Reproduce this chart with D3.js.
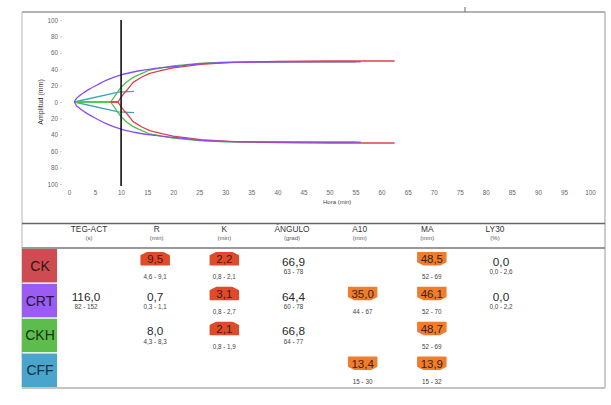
<!DOCTYPE html>
<html>
<head>
<meta charset="utf-8">
<script src="https://cdn.jsdelivr.net/npm/d3@7"></script>
<style>
    body { margin: 0; background: #fff; }
    svg { font-family: "Liberation Sans", Arial, sans-serif; }
</style>
</head>
<body>
<svg width="611" height="405"></svg>
<script>
// axis tick labels
var timeTicks = [0, 5, 10, 15, 20, 25, 30, 35, 40, 45, 50, 55, 60, 65, 70, 75, 80, 85, 90, 95, 100];
var ampTicks = [-100, -80, -60, -40, -20, 0, 20, 40, 60, 80, 100];

// upper half of each trace [min, mm]; the lower half is its mirror
var ckTrace = [[8, 0], [9.4, 0], [10, 6], [10.5, 10], [11.2, 15], [12.3, 24], [14, 30.5], [15.5, 35], [18, 39], [20, 41.5], [25.3, 46], [31.4, 48.4], [40, 49.5], [50, 50], [62.5, 50]];
var crtTrace = [[1, 0], [1.4, 4], [2, 7.5], [3, 12], [4, 16], [5, 19.5], [7, 26], [10, 33], [13, 37.5], [16, 40.5], [20, 43], [25, 46.5], [30, 48], [40, 48.8], [56, 49]];
var ckhTrace = [[1, 0], [8, 0], [9, 9], [10, 18], [11, 24], [12.3, 30], [14, 35], [15.5, 39], [18, 42], [20, 44], [25, 47], [30, 48.5], [40, 49], [55, 49]];
var cffTrace = [[1, 0], [9.5, 12], [12.5, 13]];
var referenceTime = 10;

// table
var groups = ["CK", "CRT", "CKH", "CFF"];
var params = ["TEG-ACT", "R", "K", "ÁNGULO", "A10", "MA", "LY30"];
var paramUnits = ["(s)", "(min)", "(min)", "(grad)", "(mm)", "(mm)", "(%)"];
// group, parameter, value, reference range, flag
var cells = [
    ["CK", "R", "9,5", "4,6 - 9,1", "high"],
    ["CK", "K", "2,2", "0,8 - 2,1", "high"],
    ["CK", "ÁNGULO", "66,9", "63 - 78", ""],
    ["CK", "MA", "48,5", "52 - 69", "low"],
    ["CK", "LY30", "0,0", "0,0 - 2,6", ""],
    ["CRT", "TEG-ACT", "116,0", "82 - 152", ""],
    ["CRT", "R", "0,7", "0,3 - 1,1", ""],
    ["CRT", "K", "3,1", "0,8 - 2,7", "high"],
    ["CRT", "ÁNGULO", "64,4", "60 - 78", ""],
    ["CRT", "A10", "35,0", "44 - 67", "low"],
    ["CRT", "MA", "46,1", "52 - 70", "low"],
    ["CRT", "LY30", "0,0", "0,0 - 2,2", ""],
    ["CKH", "R", "8,0", "4,3 - 8,3", ""],
    ["CKH", "K", "2,1", "0,8 - 1,9", "high"],
    ["CKH", "ÁNGULO", "66,8", "64 - 77", ""],
    ["CKH", "MA", "48,7", "52 - 69", "low"],
    ["CFF", "A10", "13,4", "15 - 30", "low"],
    ["CFF", "MA", "13,9", "15 - 32", "low"]
];

var groupColors = { CK: "#cf4b52", CRT: "#9a5cf2", CKH: "#5dbd4c", CFF: "#4aa5cc" };
var groupText = { CK: "#2e1616", CRT: "#22143a", CKH: "#183014", CFF: "#132c44" };
var traceColors = { CK: "#e0404a", CRT: "#8a4cf0", CKH: "#4cc24a", CFF: "#3aa7b8" };

var svg = d3.select("svg");

// frame
var frame = svg.append("g");
frame.append("line").attr("x1", 22).attr("x2", 605).attr("y1", 12).attr("y2", 12)
    .attr("stroke", "#666").attr("stroke-width", 1.2);
frame.append("line").attr("x1", 465).attr("x2", 465).attr("y1", 7).attr("y2", 12)
    .attr("stroke", "#666").attr("stroke-width", 1);
frame.append("line").attr("x1", 22).attr("x2", 22).attr("y1", 12).attr("y2", 388)
    .attr("stroke", "#b5b5b5").attr("stroke-width", 1);
frame.append("line").attr("x1", 605).attr("x2", 605).attr("y1", 12).attr("y2", 388)
    .attr("stroke", "#bbb").attr("stroke-width", 1.5);
frame.append("line").attr("x1", 22).attr("x2", 605).attr("y1", 388).attr("y2", 388)
    .attr("stroke", "#c4c4c4").attr("stroke-width", 2);
frame.append("line").attr("x1", 22).attr("x2", 605).attr("y1", 223.5).attr("y2", 223.5)
    .attr("stroke", "#666").attr("stroke-width", 1.5);
frame.append("line").attr("x1", 22).attr("x2", 605).attr("y1", 248).attr("y2", 248)
    .attr("stroke", "#999").attr("stroke-width", 2);

// chart scales
var x = d3.scaleLinear().domain([0, 100]).range([69, 590]);
var y = d3.scaleLinear().domain([-100, 100]).range([184, 20]);

// axes
var yAxis = svg.append("g")
    .attr("transform", "translate(62,0)")
    .call(d3.axisLeft(y).tickValues(ampTicks).tickFormat(function (d) { return Math.abs(d); })
        .tickSize(2).tickPadding(2));
var xAxis = svg.append("g")
    .attr("transform", "translate(0,188)")
    .call(d3.axisBottom(x).tickValues(timeTicks).tickSize(0).tickPadding(3));
[xAxis, yAxis].forEach(function (a) {
    a.select(".domain").remove();
    a.selectAll("line").attr("stroke", "#ccc");
    a.selectAll("text").attr("fill", "#666").style("font-size", "6.3px");
});

svg.append("text")
    .attr("transform", "translate(40," + y(0) + ") rotate(-90)")
    .attr("text-anchor", "middle")
    .attr("dominant-baseline", "central")
    .attr("fill", "#333")
    .style("font-size", "7px")
    .text("Amplitud (mm)");

svg.append("text")
    .attr("x", 323).attr("y", 204)
    .attr("fill", "#444")
    .style("font-size", "6px")
    .text("Hora (min)");

// traces (purple one is smooth, the others branch with corners)
function makeLine(sign, smooth) {
    var l = d3.line().x(function (d) { return x(d[0]); }).y(function (d) { return y(sign * d[1]); });
    return smooth ? l.curve(d3.curveMonotoneX) : l;
}
var traces = [["CFF", cffTrace, false], ["CKH", ckhTrace, false], ["CK", ckTrace, false], ["CRT", crtTrace, true]];
traces.forEach(function (t) {
    [1, -1].forEach(function (sign) {
        svg.append("path")
            .attr("d", makeLine(sign, t[2])(t[1]))
            .attr("fill", "none")
            .attr("stroke", traceColors[t[0]])
            .attr("stroke-width", 1.3)
            .attr("stroke-linejoin", "round");
    });
});

// reference time marker
svg.append("line")
    .attr("x1", x(referenceTime)).attr("x2", x(referenceTime))
    .attr("y1", y(100)).attr("y2", y(-100) + 2)
    .attr("stroke", "#111").attr("stroke-width", 1.6);

// table
var colHead = d3.scalePoint().domain(params).range([89, 495]);
var colVal = d3.scalePoint().domain(params).range([86, 501]);
var row = d3.scaleBand().domain(groups).range([249, 387]).paddingInner(0.04);

params.forEach(function (p, i) {
    svg.append("text")
        .attr("x", colHead(p)).attr("y", 232)
        .attr("text-anchor", "middle")
        .attr("fill", "#333")
        .style("font-size", "8.3px")
        .text(p);
    svg.append("text")
        .attr("x", colHead(p)).attr("y", 239.5)
        .attr("text-anchor", "middle")
        .attr("fill", "#555")
        .style("font-size", "6px")
        .text(paramUnits[i]);
});

groups.forEach(function (g) {
    svg.append("rect")
        .attr("x", 22).attr("y", row(g))
        .attr("width", 35).attr("height", row.bandwidth())
        .attr("fill", groupColors[g]);
    svg.append("text")
        .attr("x", 40).attr("y", row(g) + row.bandwidth() / 2)
        .attr("text-anchor", "middle")
        .attr("dominant-baseline", "central")
        .attr("fill", groupText[g])
        .style("font-size", "14px")
        .text(g);
});

function badgePath(flag) {
    var w = 28, h = 12, p = 3;
    if (flag === "high") {
        return "M" + (-w / 2) + "," + (h / 2) + "L" + (-w / 2) + "," + (-h / 2 + p) +
            "L" + (-w / 2 + 2 * p) + "," + (-h / 2) + "L" + (w / 2 - 2 * p) + "," + (-h / 2) +
            "L" + (w / 2) + "," + (-h / 2 + p) + "L" + (w / 2) + "," + (h / 2) + "Z";
    }
    return "M" + (-w / 2) + "," + (-h / 2) + "L" + (w / 2) + "," + (-h / 2) +
        "L" + (w / 2) + "," + (h / 2 - p) + "L" + (w / 2 - 2 * p) + "," + (h / 2) +
        "L" + (-w / 2 + 2 * p) + "," + (h / 2) + "L" + (-w / 2) + "," + (h / 2 - p) + "Z";
}

cells.forEach(function (c) {
    var cx = colVal(c[1]);
    var mid = row(c[0]) + row.bandwidth() / 2;
    var flag = c[4];
    if (flag) {
        var by = mid - 7;
        svg.append("path")
            .attr("transform", "translate(" + cx + "," + by + ")")
            .attr("d", badgePath(flag))
            .attr("fill", flag === "high" ? "#e04a2a" : "#ee7d2e")
            .attr("stroke", flag === "high" ? "#e04a2a" : "#ee7d2e")
            .attr("stroke-width", 1.5)
            .attr("stroke-linejoin", "round");
        svg.append("text")
            .attr("x", cx).attr("y", by + 0.5)
            .attr("text-anchor", "middle")
            .attr("dominant-baseline", "central")
            .attr("fill", flag === "high" ? "#4a140c" : "#42200c")
            .style("font-size", "11.5px")
            .text(c[2]);
        svg.append("text")
            .attr("x", cx).attr("y", mid + 11)
            .attr("text-anchor", "middle")
            .attr("dominant-baseline", "central")
            .attr("fill", "#444")
            .style("font-size", "6.3px")
            .text(c[3]);
    } else {
        svg.append("text")
            .attr("x", cx).attr("y", mid - 4)
            .attr("text-anchor", "middle")
            .attr("dominant-baseline", "central")
            .attr("fill", "#2a2a2a")
            .style("font-size", "11.8px")
            .text(c[2]);
        svg.append("text")
            .attr("x", cx).attr("y", mid + 6)
            .attr("text-anchor", "middle")
            .attr("dominant-baseline", "central")
            .attr("fill", "#444")
            .style("font-size", "6.3px")
            .text(c[3]);
    }
});
</script>
</body>
</html>
